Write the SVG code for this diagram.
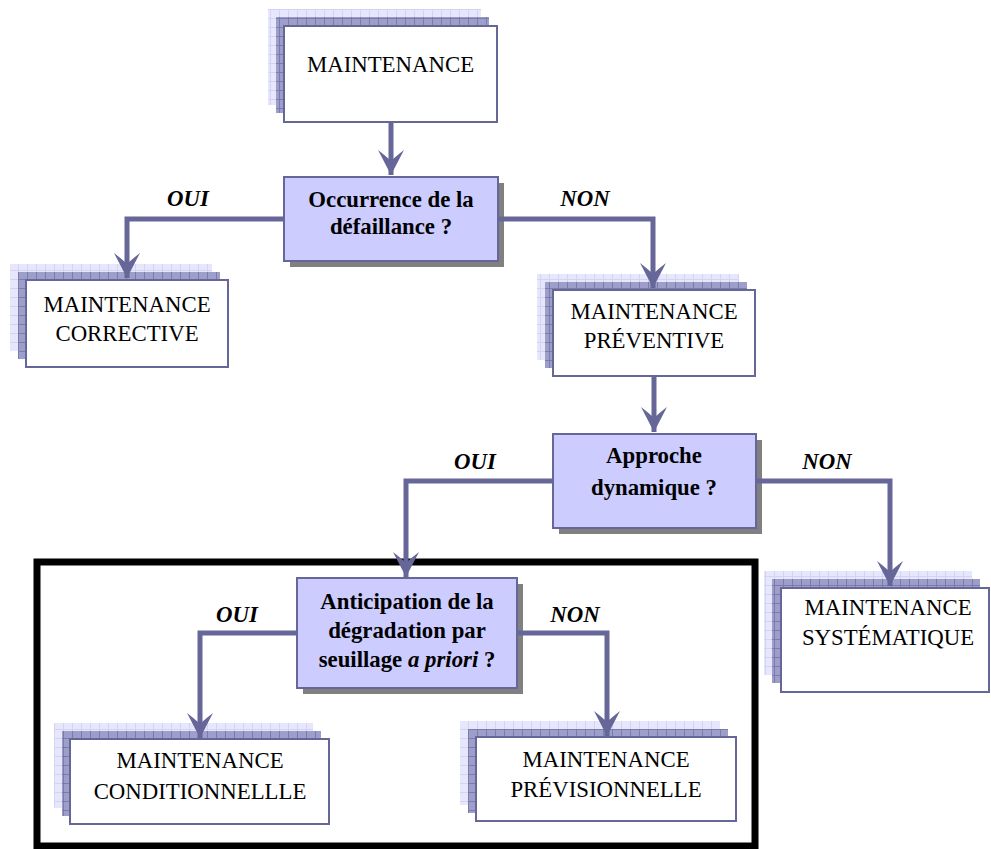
<svg xmlns="http://www.w3.org/2000/svg" width="991" height="849" viewBox="0 0 991 849">
<style>
.t{font-family:"Liberation Serif","Times New Roman",serif;font-size:22.8px;fill:#000;text-anchor:middle}
.b{font-weight:bold}
.lbl{font-weight:bold;font-style:italic}
.box{fill:#fff;stroke:#666699;stroke-width:2}
.dec{fill:#ccccff;stroke:#666699;stroke-width:2}
.sh{fill:#808080}
.l1{fill:url(#pl)}
.l2{fill:url(#pd)}
.c{fill:none;stroke:#666699;stroke-width:5;marker-end:url(#ah)}
</style>
<defs>
<pattern id="pl" width="9" height="9" patternUnits="userSpaceOnUse"><rect width="9" height="9" fill="#e6e6fc"/><path d="M0 0.5H9M0.5 0V9" stroke="#d4d4f2" stroke-width="1"/></pattern>
<pattern id="pd" width="9" height="9" patternUnits="userSpaceOnUse"><rect width="9" height="9" fill="#9e9ecb"/><path d="M0 0.5H9M0.5 0V9" stroke="#7c7cab" stroke-width="1"/></pattern>
<marker id="ah" markerUnits="userSpaceOnUse" markerWidth="30" markerHeight="30" viewBox="-27 -15 30 30" refX="0" refY="0" orient="auto"><path d="M0,0 L-25,-13 Q-18,-4 -14,0 Q-18,4 -25,13 Z" fill="#666699"/></marker>
</defs>

<rect x="37" y="562" width="718" height="284" fill="none" stroke="#000" stroke-width="7"/>

<g id="n_maintenance">
<rect class="l1" x="268" y="9" width="213" height="96"/>
<rect class="l2" x="276" y="17" width="213" height="96"/>
<rect class="box" x="284" y="26" width="213" height="96"/>
<text class="t" x="390.5" y="72">MAINTENANCE</text>
</g>

<g id="d_occurrence">
<rect class="sh" x="290" y="183" width="214" height="84"/>
<rect class="dec" x="284" y="177" width="214" height="84"/>
<text class="t b" x="391" y="207">Occurrence de la</text>
<text class="t b" x="391" y="234">défaillance ?</text>
</g>

<g id="n_corrective">
<rect class="l1" x="10" y="264" width="202" height="87"/>
<rect class="l2" x="18" y="272" width="202" height="87"/>
<rect class="box" x="26" y="280" width="202" height="87"/>
<text class="t" x="127" y="312">MAINTENANCE</text>
<text class="t" x="127" y="341">CORRECTIVE</text>
</g>

<g id="n_preventive">
<rect class="l1" x="537" y="274" width="202" height="86"/>
<rect class="l2" x="545" y="282" width="202" height="86"/>
<rect class="box" x="553" y="290" width="202" height="86"/>
<text class="t" x="654" y="319">MAINTENANCE</text>
<text class="t" x="654" y="348">PRÉVENTIVE</text>
</g>

<g id="d_approche">
<rect class="sh" x="559" y="440" width="203" height="94"/>
<rect class="dec" x="553" y="434" width="203" height="94"/>
<text class="t b" x="654" y="463">Approche</text>
<text class="t b" x="654" y="495">dynamique ?</text>
</g>

<g id="n_systematique">
<rect class="l1" x="764" y="571" width="208" height="104"/>
<rect class="l2" x="772" y="579" width="208" height="104"/>
<rect class="box" x="781" y="588" width="208" height="104"/>
<text class="t" x="888" y="615">MAINTENANCE</text>
<text class="t" x="888" y="645">SYSTÉMATIQUE</text>
</g>

<g id="d_anticipation">
<rect class="sh" x="303" y="584" width="220" height="110"/>
<rect class="dec" x="297" y="578" width="220" height="110"/>
<text class="t b" x="407" y="609">Anticipation de la</text>
<text class="t b" x="407" y="638">dégradation par</text>
<text class="t b" x="407" y="667">seuillage <tspan font-style="italic">a priori</tspan> ?</text>
</g>

<g id="n_conditionnelle">
<rect class="l1" x="54" y="723" width="259" height="85"/>
<rect class="l2" x="62" y="731" width="259" height="85"/>
<rect class="box" x="70" y="739" width="259" height="85"/>
<text class="t" x="200" y="768">MAINTENANCE</text>
<text class="t" x="200" y="799">CONDITIONNELLLE</text>
</g>

<g id="n_previsionnelle">
<rect class="l1" x="460" y="721" width="260" height="84"/>
<rect class="l2" x="468" y="729" width="260" height="84"/>
<rect class="box" x="476" y="737" width="260" height="84"/>
<text class="t" x="606" y="767">MAINTENANCE</text>
<text class="t" x="606" y="797">PRÉVISIONNELLE</text>
</g>

<g id="connectors">
<path class="c" d="M391,122 V175"/>
<path class="c" d="M284,219 H127 V278"/>
<path class="c" d="M498,219 H653 V288"/>
<path class="c" d="M654,376 V432"/>
<path class="c" d="M553,481 H406 V577"/>
<path class="c" d="M756,481 H890 V586"/>
<path class="c" d="M297,633 H200 V738"/>
<path class="c" d="M517,633 H607 V736"/>
<text class="t lbl" x="188" y="206">OUI</text>
<text class="t lbl" x="585" y="206">NON</text>
<text class="t lbl" x="475" y="469">OUI</text>
<text class="t lbl" x="827" y="469">NON</text>
<text class="t lbl" x="237" y="622">OUI</text>
<text class="t lbl" x="575" y="622">NON</text>
</g>
</svg>
